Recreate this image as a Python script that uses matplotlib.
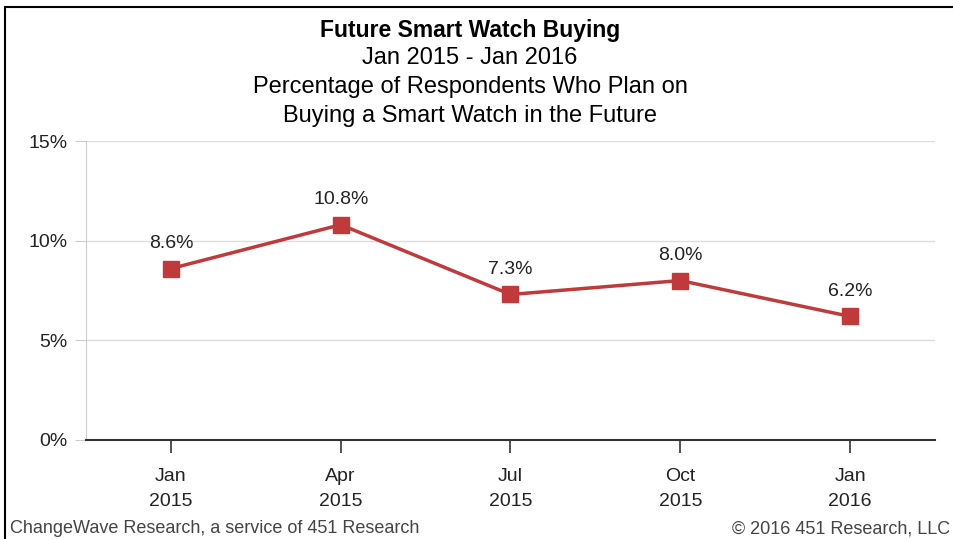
import matplotlib.pyplot as plt
from matplotlib.patches import Rectangle

# --- données ---
quarters = ["Jan\n2015", "Apr\n2015", "Jul\n2015", "Oct\n2015", "Jan\n2016"]
plan_to_buy = [8.6, 10.8, 7.3, 8.0, 6.2]
y_ticks = [0, 5, 10, 15]

plt.rcParams['font.family'] = ['Liberation Sans', 'DejaVu Sans']

W, H = 954, 539
fig = plt.figure(figsize=(W / 100, H / 100), dpi=100)

# cadre noir autour du graphique
fig.patches.append(Rectangle((5 / W, -0.1), 1.1, (H - 7) / H + 0.1, transform=fig.transFigure,
                             fill=False, edgecolor='black', linewidth=1.5))

# zone de tracé en pixels
left, right, top, bottom = 86, 935, 141, 440
ax = fig.add_axes([left / W, (H - bottom) / H, (right - left) / W, (bottom - top) / H])

x = range(len(quarters))
ax.plot(x, plan_to_buy, color='#c0393b', linewidth=2.5, marker='s', markersize=11, zorder=3)
for xi, v in zip(x, plan_to_buy):
    ax.annotate(f"{v:.1f}%", (xi, v), xytext=(0, 12), textcoords='offset points',
                ha='center', va='bottom', fontsize=14, color='#222222')

ax.set_xlim(-0.5, len(quarters) - 0.5)
ax.set_ylim(0, 15)
ax.set_yticks(y_ticks)
ax.set_yticklabels([f"{t}%" for t in y_ticks], fontsize=14, color='#222222')
ax.set_xticks(list(x))
ax.set_xticklabels(quarters, fontsize=14, color='#222222', linespacing=1.65)
ax.tick_params(axis='y', length=8, color='#cccccc', pad=5)
ax.tick_params(axis='x', length=9, width=1.2, color='#333333', pad=11)
ax.grid(axis='y', color='#dddddd', linewidth=1)
ax.set_axisbelow(True)
for s in ['top', 'right']:
    ax.spines[s].set_visible(False)
ax.spines['left'].set_color('#cccccc')
ax.spines['bottom'].set_color('#333333')
ax.spines['bottom'].set_linewidth(1.5)

# titres
cx = 470 / W
fig.text(cx, 1 - 30 / H, "Future Smart Watch Buying", ha='center', va='center',
         fontsize=16.5, fontweight='bold')
fig.text(cx, 1 - 58 / H, "Jan 2015 - Jan 2016", ha='center', va='center', fontsize=17)
fig.text(cx, 1 - 87 / H, "Percentage of Respondents Who Plan on", ha='center', va='center', fontsize=17)
fig.text(cx, 1 - 116 / H, "Buying a Smart Watch in the Future", ha='center', va='center', fontsize=17)

# pied de page
fig.text(10 / W, 2 / H, "ChangeWave Research, a service of 451 Research", ha='left',
         va='bottom', fontsize=13, color='#444444')
fig.text(950 / W, 2 / H, "\u00a9 2016 451 Research, LLC", ha='right',
         va='bottom', fontsize=13, color='#444444')

plt.savefig("out.png", dpi=100)
